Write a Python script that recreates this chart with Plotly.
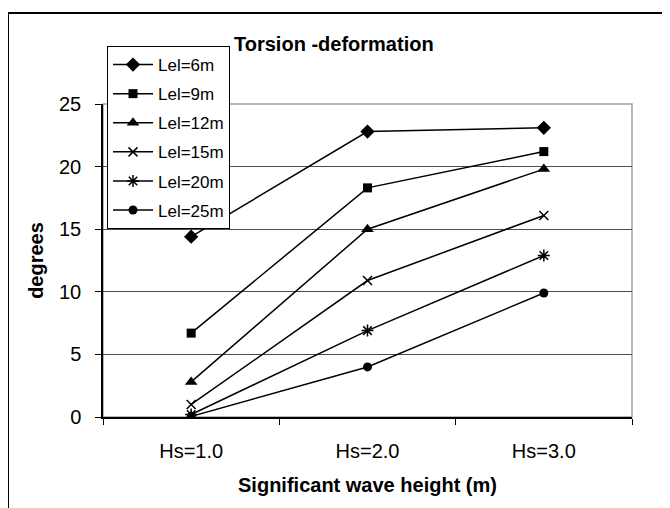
"""Torsion deformation vs significant wave height, Excel-style line chart."""

import plotly.graph_objects as go

# ── Data ───────────────────────────────────────────────────────────────────
HS_LABELS = ["Hs=1.0", "Hs=2.0", "Hs=3.0"]

LEL_6 = [14.4, 22.8, 23.1]
LEL_9 = [6.7, 18.3, 21.2]
LEL_12 = [2.8, 15.0, 19.8]
LEL_15 = [1.0, 10.9, 16.1]
LEL_20 = [0.2, 6.9, 12.9]
LEL_25 = [0.05, 4.0, 9.9]

SERIES_NAMES = ["Lel=6m", "Lel=9m", "Lel=12m", "Lel=15m", "Lel=20m", "Lel=25m"]
SERIES_VALUES = [LEL_6, LEL_9, LEL_12, LEL_15, LEL_20, LEL_25]

# ── Style ──────────────────────────────────────────────────────────────────
FONT = "Liberation Sans, Arial, sans-serif"
INK = "black"
GRID = "#4d4d4d"
FRAME = "#a0a0a0"

MARKERS = [
    dict(symbol="diamond", size=11),
    dict(symbol="square", size=9),
    dict(symbol="triangle-up", size=11),
    dict(symbol="x-thin-open", size=9, line=dict(width=1.5, color=INK)),
    dict(symbol="asterisk-open", size=10, line=dict(width=1.5, color=INK)),
    dict(symbol="circle", size=9),
]

# page body adds an 8px offset, so the figure is drawn 8px smaller
OFF = 8
W, H = 670 - OFF, 508 - OFF
L, R, T, B = 103 - OFF, 38, 104 - OFF, 91
PW, PH = W - L - R, H - T - B


def px_x(x):
    # screen pixel -> paper x
    return (x - OFF - L) / PW


def px_y(y):
    # screen pixel -> paper y
    return (H - B - (y - OFF)) / PH


fig = go.Figure()
for name, vals, mk in zip(SERIES_NAMES, SERIES_VALUES, MARKERS):
    fig.add_trace(go.Scatter(
        x=HS_LABELS, y=vals, mode="lines+markers", name=name,
        legendgroup=name,
        line=dict(color=INK, width=1.5),
        marker=dict(color=INK, **mk),
    ))

# gray frame of the plot area, then the outer chart border
fig.add_shape(type="rect", xref="paper", yref="paper", x0=0, x1=1, y0=0, y1=1,
              line=dict(color=FRAME, width=1.5), layer="below")
fig.add_shape(type="rect", xref="paper", yref="paper",
              x0=px_x(8), x1=px_x(700), y0=px_y(540), y1=px_y(13),
              line=dict(color=INK, width=2))

fig.update_layout(
    width=W, height=H, autosize=False,
    margin=dict(l=L, r=R, t=T, b=B),
    paper_bgcolor="white", plot_bgcolor="white",
    font=dict(family=FONT, size=20, color=INK),
    title=dict(
        text="<b>Torsion -deformation</b>",
        font=dict(size=20, family=FONT, color=INK),
        xref="paper", x=px_x(234), xanchor="left",
        y=1 - (44 - OFF) / H, yanchor="middle",
    ),
    showlegend=True,
    legend=dict(
        x=px_x(107), y=px_y(46), xanchor="left", yanchor="top",
        bgcolor="white", bordercolor=INK, borderwidth=1,
        font=dict(size=17, family=FONT, color=INK),
        tracegroupgap=4, itemwidth=40,
    ),
    xaxis=dict(
        type="category", range=[-0.5, 2.5],
        showline=True, linecolor=INK, linewidth=1.5,
        ticks="outside", tickson="boundaries", ticklen=6, tickcolor=INK,
        showgrid=False, zeroline=False,
        tickfont=dict(size=20),
        ticklabelstandoff=15,
        title=dict(text="<b>Significant wave height (m)</b>",
                   font=dict(size=20), standoff=17),
    ),
    yaxis=dict(
        range=[0, 25], dtick=5,
        showline=True, linecolor=INK, linewidth=1.5,
        ticks="outside", ticklen=6, tickcolor=INK,
        showgrid=True, gridcolor=GRID, gridwidth=1,
        zeroline=False,
        tickfont=dict(size=20),
        ticklabelstandoff=10,
        title=dict(text="<b>degrees</b>", font=dict(size=20), standoff=10),
    ),
)

fig.write_html("out.html")
